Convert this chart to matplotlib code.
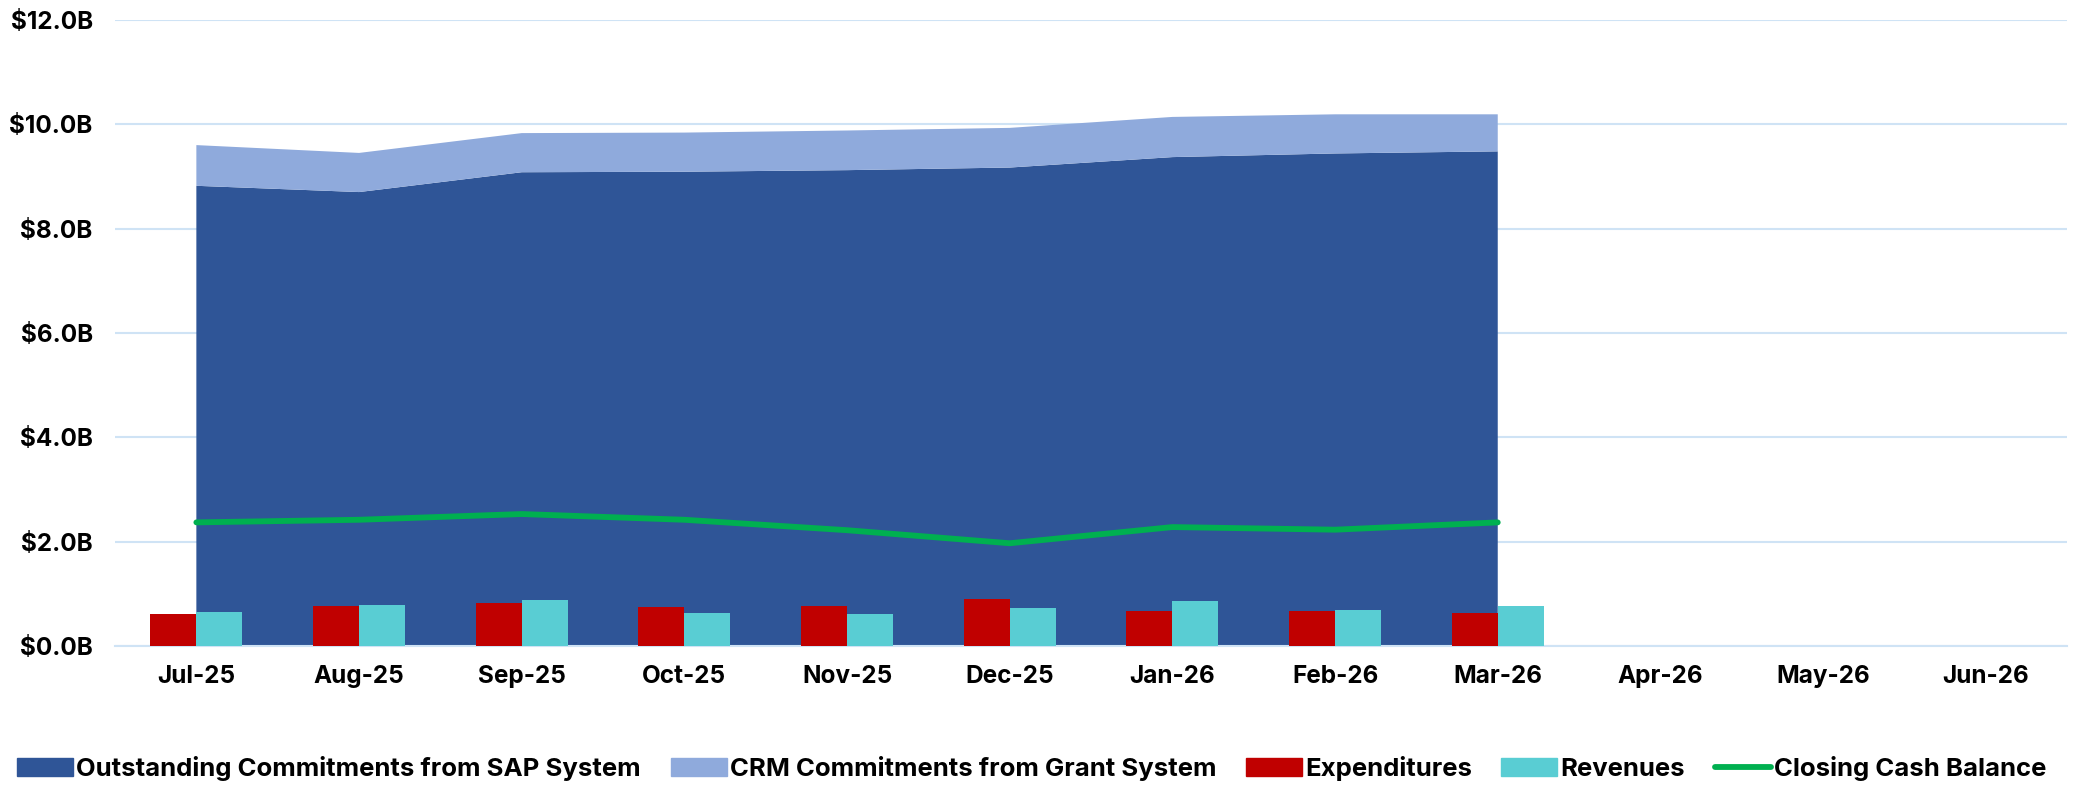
import matplotlib.pyplot as plt
import numpy as np
from matplotlib.lines import Line2D
from matplotlib.patches import Patch
from matplotlib.ticker import FuncFormatter

# Monthly values in billions
months = ["Jul-25", "Aug-25", "Sep-25", "Oct-25", "Nov-25", "Dec-25",
          "Jan-26", "Feb-26", "Mar-26", "Apr-26", "May-26", "Jun-26"]
sap_commitments = [8.82, 8.70, 9.08, 9.09, 9.12, 9.17, 9.37, 9.44, 9.48]
crm_commitments = [0.78, 0.75, 0.75, 0.75, 0.76, 0.76, 0.77, 0.75, 0.71]
expenditures = [0.615, 0.77, 0.83, 0.74, 0.77, 0.90, 0.67, 0.67, 0.63]
revenues = [0.65, 0.79, 0.88, 0.635, 0.62, 0.72, 0.86, 0.69, 0.76]
closing_cash = [2.37, 2.42, 2.53, 2.42, 2.22, 1.97, 2.28, 2.23, 2.37]

plt.rcParams["font.family"] = ["Inter", "DejaVu Sans"]
plt.rcParams["font.weight"] = "bold"

sap_color = "#2f5597"
crm_color = "#8faadc"
exp_color = "#c00000"
rev_color = "#59cdd3"
cash_color = "#00b050"
grid_color = "#cfe3f5"

fig = plt.figure(figsize=(20.8, 7.85), dpi=100)
ax = fig.add_axes([0.0553, 0.177, 0.9385, 0.7977])

x_all = np.arange(len(months))
x = np.arange(len(sap_commitments))

# Stacked areas
ax.stackplot(x, sap_commitments, crm_commitments,
             colors=[sap_color, crm_color], linewidth=0, zorder=2)

# Expenditure / revenue bars
width = 0.283
ax.bar(x - width / 2, expenditures, width, color=exp_color, zorder=3)
ax.bar(x + width / 2, revenues, width, color=rev_color, zorder=3)

# Closing cash balance line
ax.plot(x, closing_cash, color=cash_color, linewidth=4.2,
        solid_capstyle="round", zorder=4)

ax.set_xlim(-0.5, len(months) - 0.5)
ax.set_ylim(0, 12)
ax.set_yticks(np.arange(0, 12.1, 2))
ax.yaxis.set_major_formatter(FuncFormatter(lambda v, p: f"${v:.1f}B"))
ax.set_xticks(x_all)
ax.set_xticklabels(months)

ax.grid(axis="y", color=grid_color, linewidth=1.5, zorder=0)
ax.set_axisbelow(True)
for side in ["top", "right", "left"]:
    ax.spines[side].set_visible(False)
ax.spines["bottom"].set_color(grid_color)
ax.spines["bottom"].set_linewidth(1.5)
ax.tick_params(axis="both", length=0, labelsize=17.5)
ax.tick_params(axis="y", pad=16)
ax.tick_params(axis="x", pad=14)

# Legend
handles = [
    Patch(color=sap_color, label="Outstanding Commitments from SAP System"),
    Patch(color=crm_color, label="CRM Commitments from Grant System"),
    Patch(color=exp_color, label="Expenditures"),
    Patch(color=rev_color, label="Revenues"),
    Line2D([0], [0], color=cash_color, linewidth=4.2,
           solid_capstyle="round", label="Closing Cash Balance"),
]
fig.legend(handles=handles, loc="center", bbox_to_anchor=(0.496, 0.021),
           ncol=5, frameon=False, fontsize=18.5, handlelength=2.18,
           handletextpad=0.12, columnspacing=1.15)

fig.savefig("out.png", dpi=100)
